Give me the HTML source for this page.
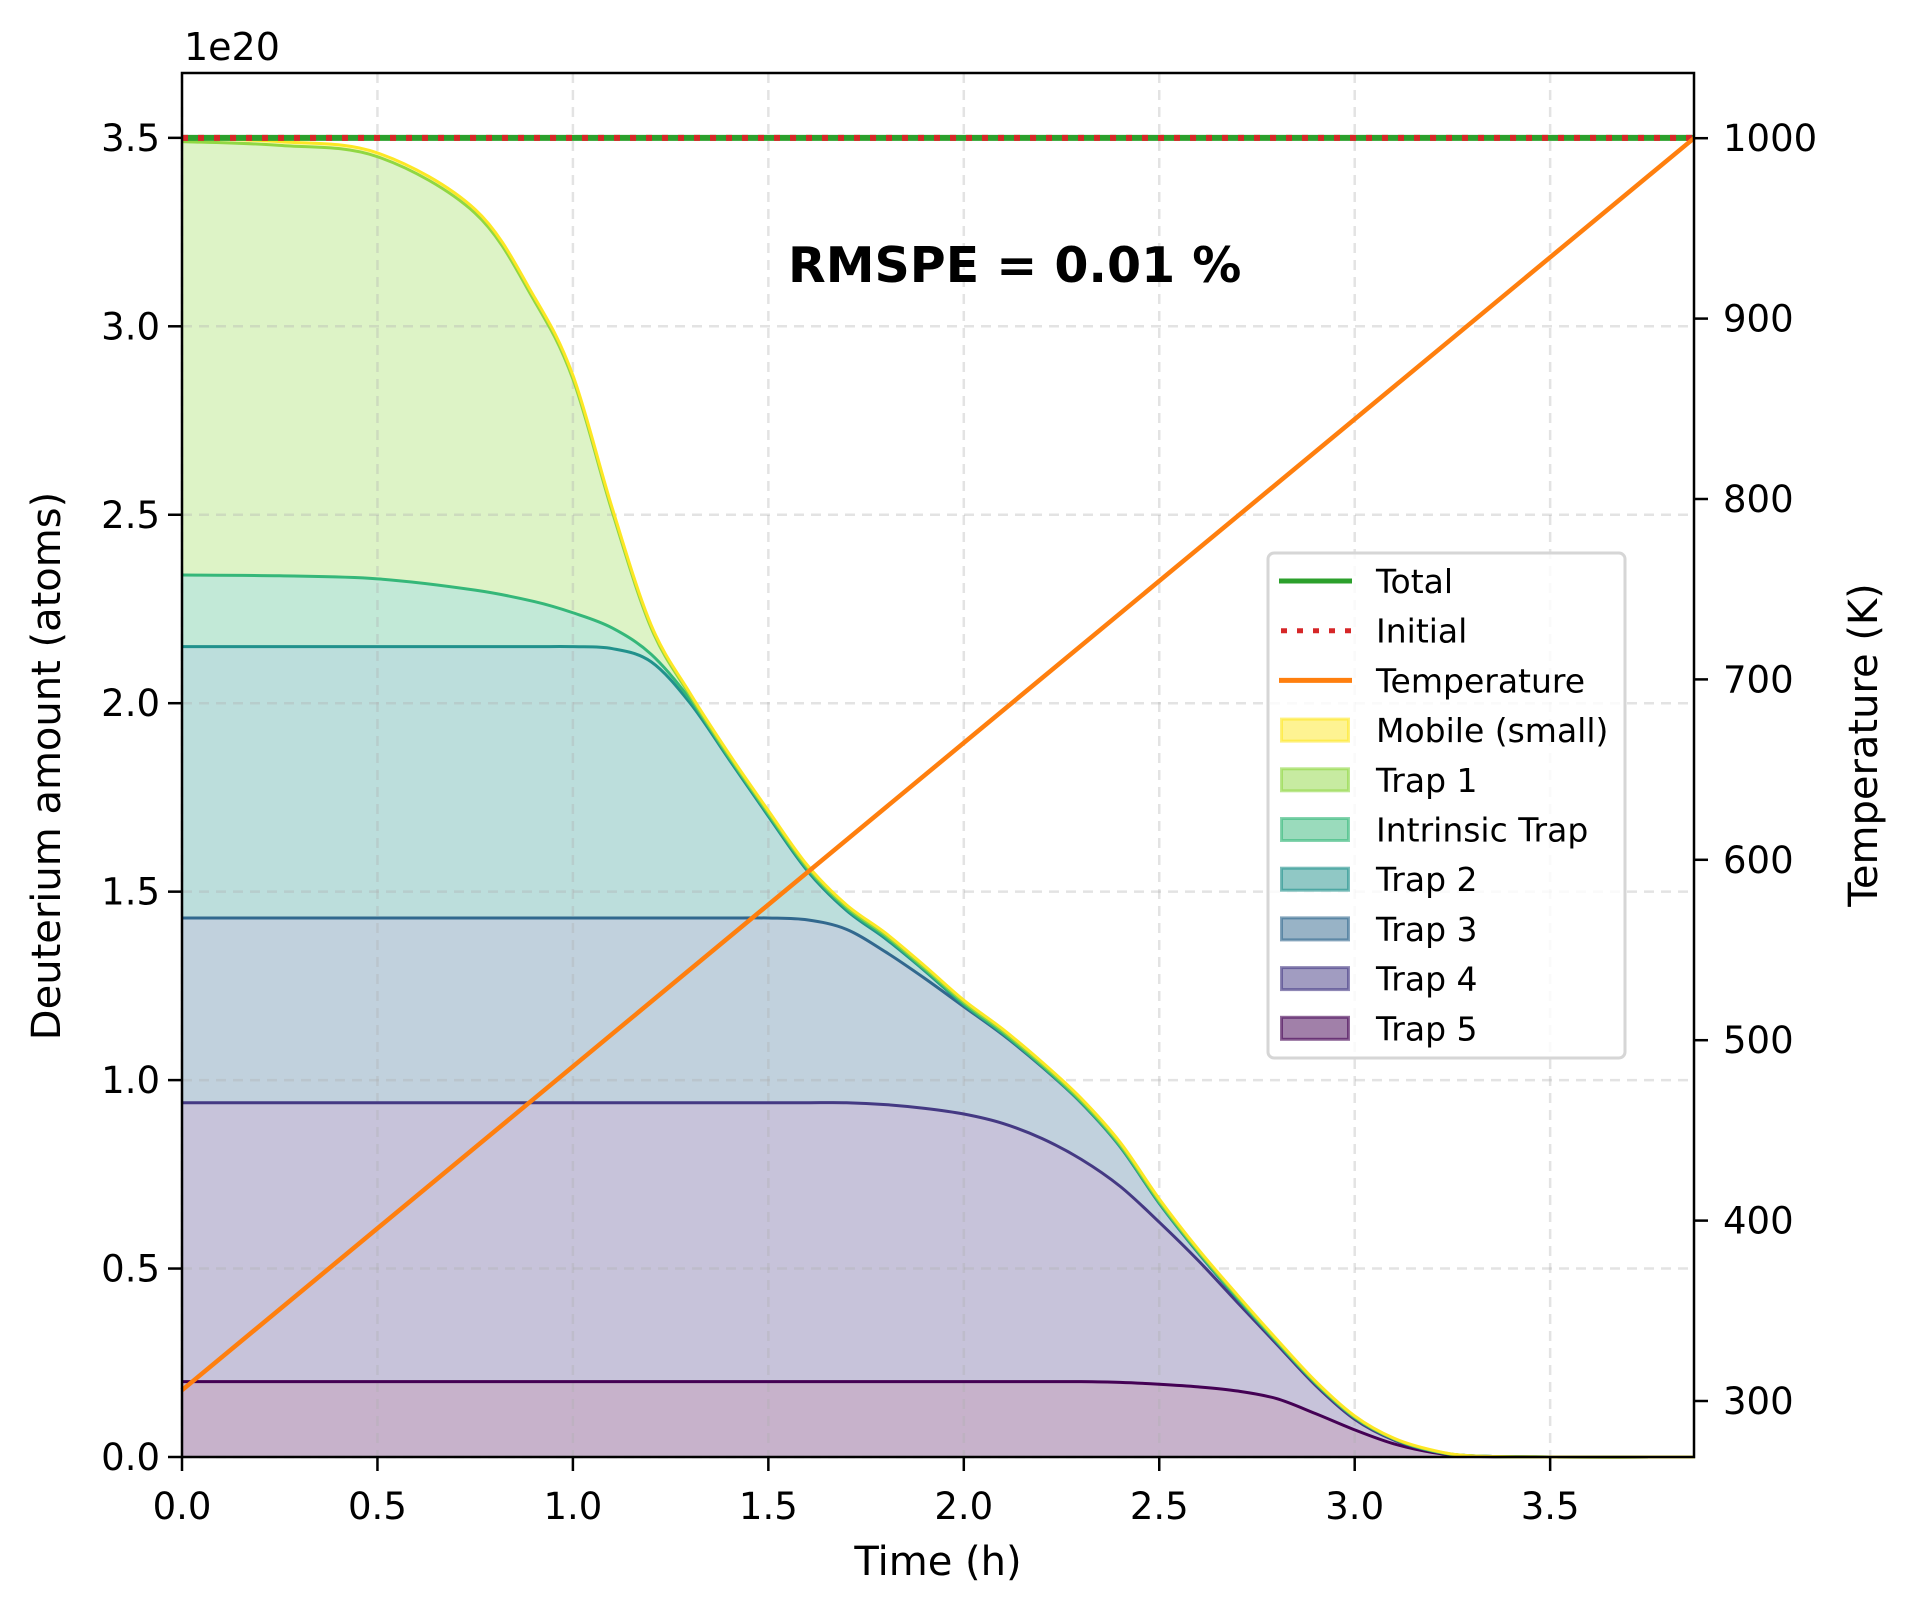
<!DOCTYPE html>
<html><head><meta charset="utf-8"><style>
body{margin:0;background:#fff}
svg{display:block;font-family:"DejaVu Sans","Liberation Sans",sans-serif}
</style></head><body>
<svg id="chart" width="1915" height="1613" viewBox="0 0 1915 1613" xmlns="http://www.w3.org/2000/svg">
<rect width="1915" height="1613" fill="#fff"/>
<g id="fills"></g>
<g id="grid"></g>
<g id="lines"></g>
<g id="axes"></g>
<text x="788" y="282" font-size="49" font-weight="bold">RMSPE = 0.01 %</text>
<text x="184" y="60" font-size="38">1e20</text>
<text x="938" y="1575" font-size="40" text-anchor="middle">Time (h)</text>
<text transform="translate(60,766) rotate(-90)" font-size="40" text-anchor="middle">Deuterium amount (atoms)</text>
<text transform="translate(1877,745) rotate(-90)" font-size="40" text-anchor="middle">Temperature (K)</text>
<g id="legend"></g>
</svg>
<script>
const times = [0,0.25,0.5,0.75,0.9,1.0,1.1,1.2,1.3,1.4,1.5,1.6,1.7,1.8,1.9,2.0,2.1,2.2,2.3,2.4,2.5,2.6,2.7,2.8,2.9,3.0,3.1,3.2,3.3,3.5,3.87];
const trap5 = [0.2,0.2,0.2,0.2,0.2,0.2,0.2,0.2,0.2,0.2,0.2,0.2,0.2,0.2,0.2,0.2,0.2,0.2,0.2,0.198,0.193,0.186,0.175,0.155,0.115,0.072,0.035,0.012,0.002,0,0];
const trap4 = [0.74,0.74,0.74,0.74,0.74,0.74,0.74,0.74,0.74,0.74,0.74,0.74,0.74,0.735,0.725,0.71,0.685,0.645,0.59,0.52,0.43,0.335,0.235,0.145,0.075,0.028,0.01,0.003,0.001,0,0];
const trap3 = [0.49,0.49,0.49,0.49,0.49,0.49,0.49,0.49,0.49,0.49,0.49,0.485,0.46,0.405,0.345,0.285,0.235,0.19,0.15,0.105,0.05,0.02,0.01,0.005,0.005,0.005,0.003,0.001,0,0,0];
const trap2 = [0.72,0.72,0.72,0.72,0.72,0.72,0.715,0.68,0.57,0.42,0.27,0.13,0.05,0.035,0.02,0.005,0.003,0.002,0.001,0.001,0.001,0.001,0.001,0.001,0.001,0,0,0,0,0,0];
const intrinsic = [0.19,0.188,0.18,0.15,0.12,0.09,0.055,0.02,0.01,0.005,0.005,0.005,0.005,0.005,0.003,0.002,0.002,0.001,0.001,0.001,0.001,0.001,0.001,0.001,0,0,0,0,0,0,0];
const trap1 = [1.15,1.142,1.12,1.0,0.80,0.62,0.31,0.07,0.01,0.005,0.005,0.005,0.005,0.005,0.005,0.005,0.005,0.005,0.005,0.005,0.005,0.004,0.004,0.003,0.003,0.002,0.001,0.001,0,0,0];
const mobile = [0.01,0.01,0.01,0.01,0.01,0.01,0.01,0.008,0.006,0.005,0.005,0.005,0.005,0.005,0.005,0.005,0.005,0.005,0.005,0.005,0.005,0.004,0.004,0.003,0.002,0.002,0.001,0.001,0,0,0];
const totalVals = [3.5,3.5,3.5,3.5,3.5,3.5,3.5,3.5,3.5,3.5,3.5,3.5,3.5,3.5,3.5,3.5,3.5,3.5,3.5,3.5,3.5,3.5,3.5,3.5,3.5,3.5,3.5,3.5,3.5,3.5,3.5];
const initialValue = 3.5;
const tempTimes = [0,3.868];
const tempVals = [306,1000];
const xTicks = [0,0.5,1.0,1.5,2.0,2.5,3.0,3.5];
const xTickLabels = ["0.0","0.5","1.0","1.5","2.0","2.5","3.0","3.5"];
const yTicks = [0,0.5,1.0,1.5,2.0,2.5,3.0,3.5];
const yTickLabels = ["0.0","0.5","1.0","1.5","2.0","2.5","3.0","3.5"];
const y2Ticks = [300,400,500,600,700,800,900,1000];

const L=182,R=1694,T=73,B=1457;
const X=t=>L+t*390.9;
const Y=v=>B-v*376.9;
const Y2=k=>1401-(k-300)*1.804;
const NS="http://www.w3.org/2000/svg";
function mk(tag,attrs,parent){const e=document.createElementNS(NS,tag);for(const k in attrs)e.setAttribute(k,attrs[k]);parent.appendChild(e);return e;}
const fills=document.getElementById('fills'),grid=document.getElementById('grid'),lines=document.getElementById('lines'),axes=document.getElementById('axes'),legend=document.getElementById('legend');

const layers=[
 {name:'trap-5',vals:trap5,color:'#440154'},
 {name:'trap-4',vals:trap4,color:'#443983'},
 {name:'trap-3',vals:trap3,color:'#31688e'},
 {name:'trap-2',vals:trap2,color:'#21918c'},
 {name:'intrinsic-trap',vals:intrinsic,color:'#35b779'},
 {name:'trap-1',vals:trap1,color:'#90d743'},
 {name:'mobile',vals:mobile,color:'#fde725'}];
let base=times.map(()=>0);
function smooth(pts){let d='M'+pts[0][0]+','+pts[0][1];for(let i=0;i<pts.length-1;i++){const p0=pts[Math.max(0,i-1)],p1=pts[i],p2=pts[i+1],p3=pts[Math.min(pts.length-1,i+2)];const c1x=p1[0]+(p2[0]-p0[0])/6,c1y=p1[1]+(p2[1]-p0[1])/6,c2x=p2[0]-(p3[0]-p1[0])/6,c2y=p2[1]-(p3[1]-p1[1])/6;d+=' C'+c1x+','+c1y+' '+c2x+','+c2y+' '+p2[0]+','+p2[1];}return d;}
layers.forEach(ly=>{
 const top=base.map((b,i)=>b+ly.vals[i]);
 const tp=times.map((t,i)=>[X(t),Y(top[i])]);
 const bp=times.map((t,i)=>[X(t),Y(base[i])]).reverse();
 const dTop=smooth(tp);
 const dBot=smooth(bp).replace('M','L');
 const f=mk('path',{d:dTop+' '+dBot+' Z',fill:ly.color,'fill-opacity':0.3,stroke:'none'},fills);
 
 
 const l=mk('path',{d:dTop,fill:'none',stroke:ly.color,'stroke-width':3},lines);
 
 
 base=top;
});
xTicks.forEach(t=>{const g=mk('line',{x1:X(t),x2:X(t),y1:T,y2:B,stroke:'#b0b0b0','stroke-opacity':0.35,'stroke-width':2.5,'stroke-dasharray':'10,7'},grid);
 
 });
yTicks.forEach(v=>{const g=mk('line',{x1:L,x2:R,y1:Y(v),y2:Y(v),stroke:'#b0b0b0','stroke-opacity':0.35,'stroke-width':2.5,'stroke-dasharray':'10,7'},grid);
 
 });
const tot=mk('path',{d:'M'+times.map((t,i)=>X(t)+','+Y(totalVals[i])).join(' L'),fill:'none',stroke:'#2ca02c','stroke-width':6},lines);


const ini=mk('line',{x1:L,x2:R,y1:Y(initialValue),y2:Y(initialValue),stroke:'#d62728','stroke-width':6,'stroke-dasharray':'6,10'},lines);


const tmp=mk('path',{d:'M'+tempTimes.map((t,i)=>X(t)+','+Y2(tempVals[i])).join(' L'),fill:'none',stroke:'#ff7f0e','stroke-width':4.5},lines);


const fr=mk('rect',{x:L,y:T,width:R-L,height:B-T,fill:'none',stroke:'#000','stroke-width':2.5},axes);


xTicks.forEach((t,i)=>{mk('line',{x1:X(t),x2:X(t),y1:B,y2:B+14,stroke:'#000','stroke-width':2.5},axes);
 const tx=mk('text',{x:X(t),y:B+62,'font-size':37,'text-anchor':'middle'},axes);tx.textContent=xTickLabels[i];
 
 });
yTicks.forEach((v,i)=>{mk('line',{x1:L-14,x2:L,y1:Y(v),y2:Y(v),stroke:'#000','stroke-width':2.5},axes);
 const tx=mk('text',{x:L-22,y:Y(v)+13,'font-size':37,'text-anchor':'end'},axes);tx.textContent=yTickLabels[i];
 
 });
y2Ticks.forEach(k=>{mk('line',{x1:R,x2:R+14,y1:Y2(k),y2:Y2(k),stroke:'#000','stroke-width':2.5},axes);
 const tx=mk('text',{x:R+29,y:Y2(k)+13,'font-size':37},axes);tx.textContent=String(k);
 
 });
const lb=mk('rect',{x:1268,y:553,width:357,height:505,rx:6,fill:'#fff','fill-opacity':0.8,stroke:'#d6d6d6','stroke-width':3},legend);


const entries=[
 {label:'Total',type:'line',color:'#2ca02c'},
 {label:'Initial',type:'dot',color:'#d62728'},
 {label:'Temperature',type:'line',color:'#ff7f0e'},
 {label:'Mobile (small)',type:'patch',color:'#fde725'},
 {label:'Trap 1',type:'patch',color:'#90d743'},
 {label:'Intrinsic Trap',type:'patch',color:'#35b779'},
 {label:'Trap 2',type:'patch',color:'#21918c'},
 {label:'Trap 3',type:'patch',color:'#31688e'},
 {label:'Trap 4',type:'patch',color:'#443983'},
 {label:'Trap 5',type:'patch',color:'#440154'}];
entries.forEach((e,i)=>{const cy=581+49.7*i;
 const g=mk('g',{},legend);
 
 
 if(e.type==='line')mk('line',{x1:1279,x2:1352,y1:cy,y2:cy,stroke:e.color,'stroke-width':5},g);
 else if(e.type==='dot')mk('line',{x1:1281,x2:1352,y1:cy,y2:cy,stroke:e.color,'stroke-width':5,'stroke-dasharray':'6,10'},g);
 else mk('rect',{x:1281.5,y:cy-11,width:67,height:22,fill:e.color,'fill-opacity':0.5,stroke:e.color,'stroke-opacity':0.6,'stroke-width':3},g);
 const tx=mk('text',{x:1376,y:cy+12,'font-size':33},g);tx.textContent=e.label;});
</script>
</body></html>
